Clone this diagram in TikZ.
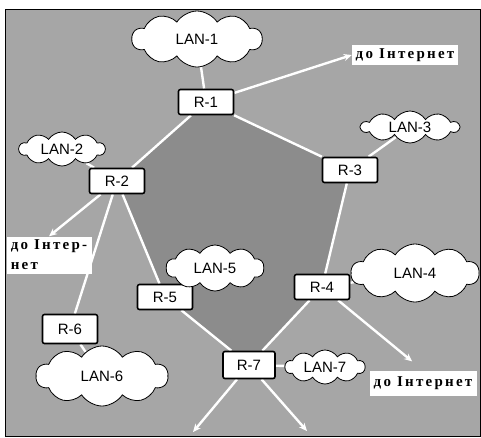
\documentclass[tikz,border=0pt]{standalone}
\usepackage{fontspec}
\usepackage{tikz}
\usetikzlibrary{positioning, arrows.meta, shapes.symbols, backgrounds}
\newfontfamily\labfont{Liberation Sans}
\newfontfamily\netfont[LetterSpace=15]{Liberation Serif}
\definecolor{Outer}{HTML}{A6A6A6}
\definecolor{Inner}{HTML}{8C8C8C}

\begin{document}
\begin{tikzpicture}[
    x=1pt, y=-1pt,
    rt/.style={draw=black, line width=1.6pt, fill=white, rounded corners=2pt, minimum width=55pt, minimum height=25pt, inner sep=0pt, font=\labfont\fontsize{15}{17}\selectfont},
    lan/.style={cloud, cloud puffs=10, cloud puff arc=115, cloud ignores aspect, draw=black, thick, fill=white, inner sep=0pt, font=\labfont\fontsize{15}{17}\selectfont},
    net/.style={fill=white, inner sep=3pt, align=left, font=\netfont\bfseries\fontsize{15}{20}\selectfont},
    link/.style={draw=white, line width=2.4pt},
    arr/.style={link, -{Stealth[length=8pt, width=7pt]}}
]
\useasboundingbox (0,0) rectangle (481,437);

% routers
\node[rt] (r1) at (206,102) {R-1};
\node[rt] (r2) at (117,181) {R-2};
\node[rt] (r3) at (350,170) {R-3};
\node[rt] (r4) at (322,287) {R-4};
\node[rt] (r5) at (165,297) {R-5};
\node[rt, minimum height=29pt] (r6) at (70,329) {R-6};
\node[rt, minimum width=52pt, minimum height=27pt] (r7) at (249,365) {R-7};

% local networks
\node[lan, minimum width=130pt, minimum height=56pt] (lan1) at (197,39) {LAN-1};
\node[lan, minimum width=86pt, minimum height=34pt] (lan2) at (62,149) {LAN-2};
\node[lan, minimum width=98pt, minimum height=32pt] (lan3) at (410,127) {LAN-3};
\node[lan, minimum width=128pt, minimum height=58pt] (lan4) at (415,273) {LAN-4};
\node[lan, minimum width=98pt, minimum height=46pt] (lan5) at (215,268) {LAN-5};
\node[lan, minimum width=132pt, minimum height=60pt] (lan6) at (102,376) {LAN-6};
\node[lan, minimum width=80pt, minimum height=34pt] (lan7) at (325,367) {LAN-7};

% internet exits
\node[net, minimum width=106pt, minimum height=18pt] (net1) at (405,55) {до Інтернет};
\node[net, minimum width=85pt, minimum height=37pt] (net2) at (49,255) {до Інтер-\\нет};
\node[net, minimum width=107pt, minimum height=25pt] (net3) at (423,383) {до Інтернет};
\coordinate (out1) at (193,432);
\coordinate (out2) at (307,431);

\begin{scope}[on background layer]
\filldraw[fill=Outer, draw=black, thick] (5,9) rectangle (480,436);
\fill[Inner] (r1.center) -- (r2.center) -- (r5.center) -- (r7.center) -- (r4.center) -- (r3.center) -- cycle;

\draw[link] (lan1) -- (r1);
\draw[link] (lan2) -- (r2);
\draw[link] (lan3) -- (r3);
\draw[link] (lan4) -- (r4);
\draw[link] (lan5) -- (r5);
\draw[link] (lan6) -- (r6);
\draw[link] (lan7) -- (r7);

\draw[link] (r1) -- (r2);
\draw[link] (r1) -- (r3);
\draw[link] (r2) -- (r5);
\draw[link] (r2) -- (r6);
\draw[link] (r3) -- (r4);
\draw[link] (r4) -- (r7);
\draw[link] (r5) -- (r7);

\draw[arr] (r1) -- (net1.west);
\draw[arr] (r2) -- (net2.north);
\draw[arr, shorten >=14pt] (r4) -- (net3.north);
\draw[arr] (r7) -- (out1);
\draw[arr] (r7) -- (out2);
\end{scope}

\end{tikzpicture}
\end{document}
